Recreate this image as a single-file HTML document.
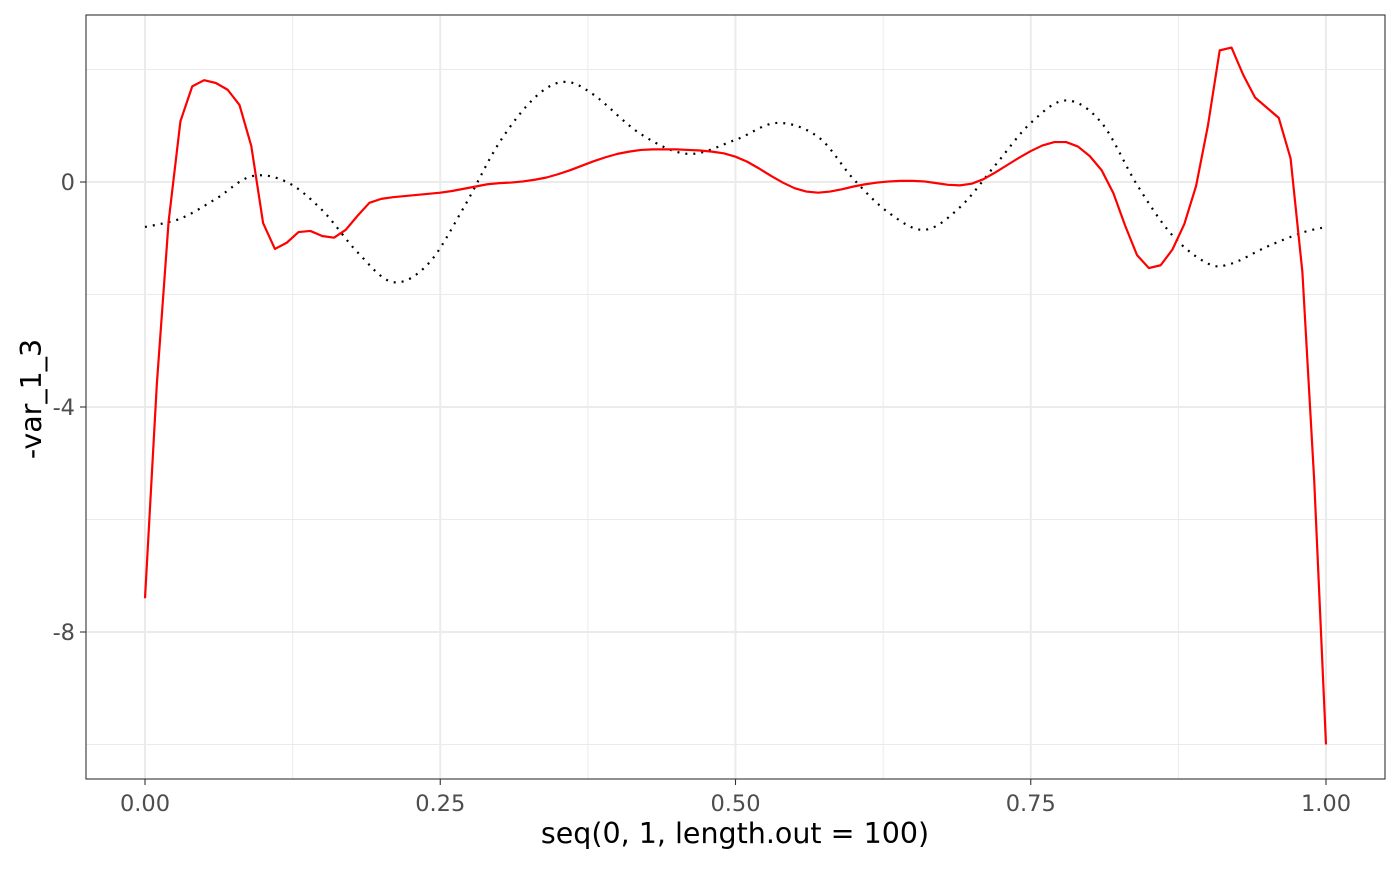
<!DOCTYPE html>
<html><head><meta charset="utf-8"><style>
body{margin:0;background:#fff;font-family:"Liberation Sans","DejaVu Sans",sans-serif}
svg text{font-family:"DejaVu Sans","Liberation Sans",sans-serif}
</style></head><body>
<svg id="chart" width="1400" height="865">
<rect x="0" y="0" width="1400" height="865" fill="#fff"/>
<g id="grid"></g>
<g id="series"></g>
<rect x="86" y="15" width="1299" height="764" fill="none" stroke="#333" stroke-width="1.1"/>
<g id="axes"></g>
<text x="735" y="843" font-size="28.5" text-anchor="middle" fill="#000">seq(0, 1, length.out = 100)</text>
<text transform="translate(41,399) rotate(-90)" font-size="28.5" text-anchor="middle" fill="#000">-var_1_3</text>
</svg>
<script>
const xTicks=[0,0.25,0.5,0.75,1];
const xTickLabels=["0.00","0.25","0.50","0.75","1.00"];
const yTicks=[0,-4,-8];
const yTickLabels=["0","-4","-8"];
const redValues=[-7.4,-3.6,-0.7,1.08,1.7,1.81,1.76,1.64,1.37,0.64,-0.73,-1.19,-1.08,-0.89,-0.87,-0.96,-0.99,-0.85,-0.6,-0.37,-0.3,-0.27,-0.25,-0.23,-0.21,-0.19,-0.16,-0.12,-0.08,-0.04,-0.02,-0.01,0.01,0.04,0.08,0.14,0.21,0.29,0.37,0.44,0.5,0.54,0.57,0.58,0.58,0.58,0.57,0.56,0.54,0.51,0.45,0.36,0.24,0.11,-0.01,-0.11,-0.17,-0.19,-0.17,-0.13,-0.08,-0.04,-0.01,0.01,0.02,0.02,0.01,-0.02,-0.05,-0.06,-0.03,0.05,0.17,0.3,0.43,0.55,0.65,0.71,0.71,0.63,0.46,0.21,-0.2,-0.78,-1.3,-1.53,-1.48,-1.2,-0.75,-0.07,1.0,2.34,2.39,1.9,1.5,1.32,1.14,0.42,-1.6,-5.3,-10.0];
const dotX=[0,0.03,0.06,0.09,0.12,0.15,0.18,0.21,0.24,0.27,0.3,0.33,0.355,0.38,0.42,0.46,0.5,0.535,0.57,0.6,0.63,0.66,0.69,0.72,0.75,0.78,0.81,0.84,0.87,0.9,0.92,0.95,0.98,1.0];
const dotY=[-0.8,-0.65,-0.3,0.1,0.0,-0.5,-1.25,-1.78,-1.45,-0.45,0.7,1.5,1.78,1.55,0.85,0.5,0.75,1.05,0.8,0.05,-0.55,-0.85,-0.45,0.3,1.05,1.45,1.05,-0.05,-0.95,-1.45,-1.45,-1.15,-0.9,-0.8];
const X=v=>145+v*1181, Y=v=>182-v*56.25;
const NS="http://www.w3.org/2000/svg";
function mk(tag,attrs,parent){const e=document.createElementNS(NS,tag);for(const k in attrs)e.setAttribute(k,attrs[k]);parent.appendChild(e);return e;}
const grid=document.getElementById('grid'),axes=document.getElementById('axes'),ser=document.getElementById('series');
[0.125,0.375,0.625,0.875].forEach(v=>{const l=mk('line',{x1:X(v),x2:X(v),y1:15,y2:779,stroke:'#ebebeb','stroke-width':1},grid);

});
[2,-2,-6,-10].forEach(v=>{const l=mk('line',{x1:86,x2:1385,y1:Y(v),y2:Y(v),stroke:'#ebebeb','stroke-width':1},grid);

});
xTicks.forEach((v,i)=>{const l=mk('line',{x1:X(v),x2:X(v),y1:15,y2:779,stroke:'#ebebeb','stroke-width':2},grid);


mk('line',{x1:X(v),x2:X(v),y1:779,y2:785,stroke:'#333','stroke-width':1.1},axes);
const t=mk('text',{x:X(v),y:811,'font-size':22.5,'text-anchor':'middle',fill:'#4d4d4d'},axes);t.textContent=xTickLabels[i];

});
yTicks.forEach((v,i)=>{const l=mk('line',{x1:86,x2:1385,y1:Y(v),y2:Y(v),stroke:'#ebebeb','stroke-width':2},grid);


mk('line',{x1:80,x2:86,y1:Y(v),y2:Y(v),stroke:'#333','stroke-width':1.1},axes);
const t=mk('text',{x:75,y:Y(v)+8,'font-size':22.5,'text-anchor':'end',fill:'#4d4d4d'},axes);t.textContent=yTickLabels[i];

});
let d='M'+X(dotX[0])+','+Y(dotY[0]);
for(let i=0;i<dotX.length-1;i++){const p0=[X(dotX[Math.max(0,i-1)]),Y(dotY[Math.max(0,i-1)])],p1=[X(dotX[i]),Y(dotY[i])],p2=[X(dotX[i+1]),Y(dotY[i+1])],p3=[X(dotX[Math.min(dotX.length-1,i+2)]),Y(dotY[Math.min(dotX.length-1,i+2)])];
d+=` C${p1[0]+(p2[0]-p0[0])/6},${p1[1]+(p2[1]-p0[1])/6} ${p2[0]-(p3[0]-p1[0])/6},${p2[1]-(p3[1]-p1[1])/6} ${p2[0]},${p2[1]}`;}
const dl=mk('path',{d:d,fill:'none',stroke:'#000','stroke-width':2.2,'stroke-dasharray':'2 6','stroke-linecap':'butt'},ser);


const rp=redValues.map((v,i)=>X(i/(redValues.length-1))+','+Y(v)).join(' ');
const rl=mk('polyline',{points:rp,fill:'none',stroke:'#ff0000','stroke-width':2.2,'stroke-linejoin':'round'},ser);


</script>
</body></html>
